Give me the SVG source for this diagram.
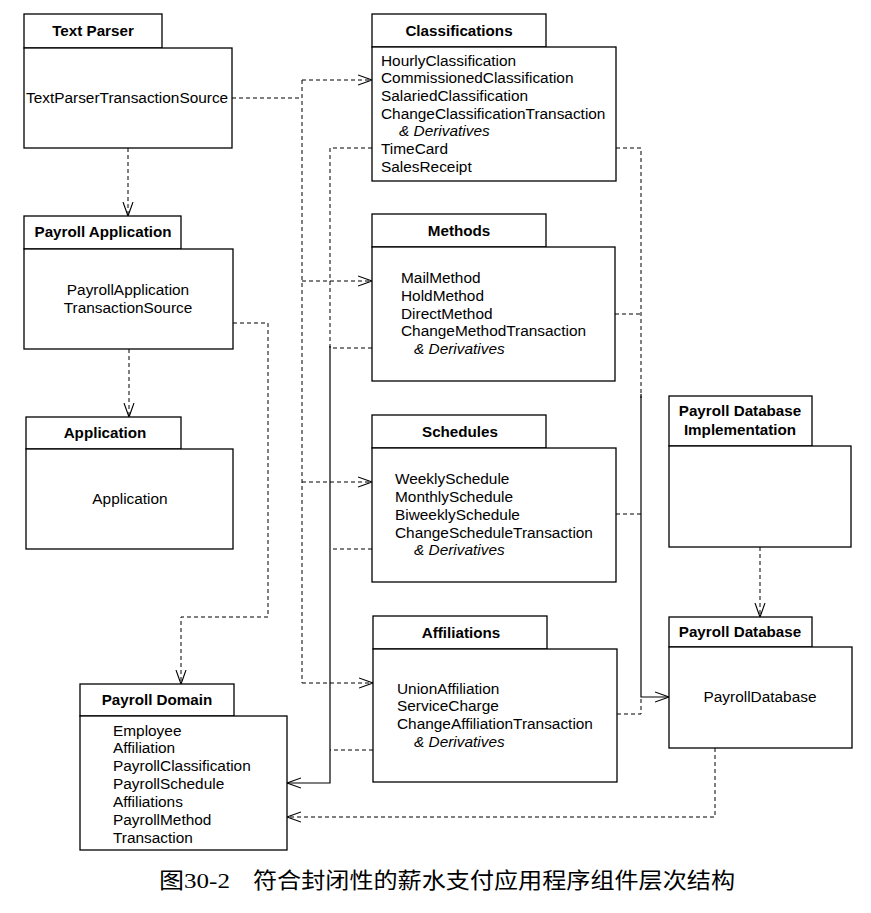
<svg xmlns="http://www.w3.org/2000/svg" width="871" height="913" viewBox="0 0 871 913">
<style>
.box{fill:#fff;stroke:#000;stroke-width:1.3}
.t{font-family:"Liberation Sans",Arial,sans-serif;font-size:15.2px;font-weight:bold;text-anchor:middle;fill:#000}
.b{font-family:"Liberation Sans",Arial,sans-serif;font-size:15.4px;fill:#000}
.c{text-anchor:middle}
.i{font-style:italic}
.d{fill:none;stroke:#000;stroke-width:1;stroke-dasharray:4 3}
.s{fill:none;stroke:#000;stroke-width:1.2}
.cap{font-family:"Liberation Serif","Noto Sans CJK SC",serif;font-size:22px;fill:#000}
</style>
<defs>
<marker id="ah" markerUnits="userSpaceOnUse" markerWidth="16" markerHeight="12" refX="14" refY="6" orient="auto">
<path d="M0,1 L14,6 L0,11" fill="none" stroke="#000" stroke-width="1.1"/>
</marker>
</defs>
<g id="connectors">
<path class="d" d="M128,148 V216" marker-end="url(#ah)"/>
<path class="d" d="M129,349 V417" marker-end="url(#ah)"/>
<path class="d" d="M232,98 H302"/>
<path class="d" d="M302,80 V683"/>
<path class="d" d="M302,80 H372" marker-end="url(#ah)"/>
<path class="d" d="M302,281 H372" marker-end="url(#ah)"/>
<path class="d" d="M302,482 H372" marker-end="url(#ah)"/>
<path class="d" d="M302,683 H373" marker-end="url(#ah)"/>
<path class="d" d="M372,148 H330 V348"/>
<path class="d" d="M372,348 H330"/>
<path class="d" d="M372,549 H330"/>
<path class="d" d="M373,750 H330"/>
<path class="s" d="M330,346 V783 H287" marker-end="url(#ah)"/>
<path class="d" d="M616,148 H641 V398"/>
<path class="d" d="M615,314 H641"/>
<path class="d" d="M616,514 H641"/>
<path class="d" d="M617,714 H641 V697"/>
<path class="s" d="M641,394 V697 H669" marker-end="url(#ah)"/>
<path class="d" d="M233,323 H268 V617 H181 V684" marker-end="url(#ah)"/>
<path class="d" d="M760,547 V617" marker-end="url(#ah)"/>
<path class="d" d="M715,748 V817 H287" marker-end="url(#ah)"/>
</g>
<g id="text-parser">
<rect class="box" x="24" y="14" width="138" height="34"/>
<rect class="box" x="24" y="48" width="208" height="100"/>
<text class="t" x="93" y="36">Text Parser</text>
<text class="b" x="26" y="103">TextParserTransactionSource</text>
</g>
<g id="payroll-application">
<rect class="box" x="24" y="216" width="157" height="33"/>
<rect class="box" x="24" y="249" width="209" height="100"/>
<text class="t" x="103" y="237">Payroll Application</text>
<text class="b c" x="128" y="295">PayrollApplication</text>
<text class="b c" x="128" y="313">TransactionSource</text>
</g>
<g id="application">
<rect class="box" x="26" y="417" width="155" height="32"/>
<rect class="box" x="26" y="449" width="207" height="100"/>
<text class="t" x="105" y="438">Application</text>
<text class="b c" x="130" y="504">Application</text>
</g>
<g id="classifications">
<rect class="box" x="372" y="14" width="174" height="33"/>
<rect class="box" x="372" y="47" width="244" height="134"/>
<text class="t" x="459" y="36">Classifications</text>
<text class="b" x="381" y="66">HourlyClassification</text>
<text class="b" x="381" y="83">CommissionedClassification</text>
<text class="b" x="381" y="101">SalariedClassification</text>
<text class="b" x="381" y="119">ChangeClassificationTransaction</text>
<text class="b i" x="399" y="136">&amp; Derivatives</text>
<text class="b" x="381" y="154">TimeCard</text>
<text class="b" x="381" y="172">SalesReceipt</text>
</g>
<g id="methods">
<rect class="box" x="372" y="214" width="174" height="33"/>
<rect class="box" x="372" y="247" width="243" height="134"/>
<text class="t" x="459" y="236">Methods</text>
<text class="b" x="401" y="283">MailMethod</text>
<text class="b" x="401" y="301">HoldMethod</text>
<text class="b" x="401" y="319">DirectMethod</text>
<text class="b" x="401" y="336">ChangeMethodTransaction</text>
<text class="b i" x="414" y="354">&amp; Derivatives</text>
</g>
<g id="schedules">
<rect class="box" x="372" y="415" width="174" height="33"/>
<rect class="box" x="372" y="448" width="244" height="134"/>
<text class="t" x="460" y="437">Schedules</text>
<text class="b" x="395" y="484">WeeklySchedule</text>
<text class="b" x="395" y="502">MonthlySchedule</text>
<text class="b" x="395" y="520">BiweeklySchedule</text>
<text class="b" x="395" y="538">ChangeScheduleTransaction</text>
<text class="b i" x="414" y="555">&amp; Derivatives</text>
</g>
<g id="affiliations">
<rect class="box" x="373" y="616" width="174" height="33"/>
<rect class="box" x="373" y="649" width="244" height="133"/>
<text class="t" x="461" y="638">Affiliations</text>
<text class="b" x="397" y="694">UnionAffiliation</text>
<text class="b" x="397" y="711">ServiceCharge</text>
<text class="b" x="397" y="729">ChangeAffiliationTransaction</text>
<text class="b i" x="414" y="747">&amp; Derivatives</text>
</g>
<g id="payroll-database-implementation">
<rect class="box" x="669" y="396" width="143" height="50"/>
<rect class="box" x="669" y="446" width="182" height="101"/>
<text class="t" x="740" y="416">Payroll Database</text>
<text class="t" x="740" y="435">Implementation</text>
</g>
<g id="payroll-database">
<rect class="box" x="669" y="617" width="143" height="30"/>
<rect class="box" x="669" y="647" width="183" height="101"/>
<text class="t" x="740" y="637">Payroll Database</text>
<text class="b c" x="760" y="702">PayrollDatabase</text>
</g>
<g id="payroll-domain">
<rect class="box" x="80" y="684" width="154" height="32"/>
<rect class="box" x="80" y="716" width="207" height="134"/>
<text class="t" x="157" y="705">Payroll Domain</text>
<text class="b" x="113" y="736">Employee</text>
<text class="b" x="113" y="753">Affiliation</text>
<text class="b" x="113" y="771">PayrollClassification</text>
<text class="b" x="113" y="789">PayrollSchedule</text>
<text class="b" x="113" y="807">Affiliations</text>
<text class="b" x="113" y="825">PayrollMethod</text>
<text class="b" x="113" y="843">Transaction</text>
</g>
<g id="caption">
<text class="cap" x="159" y="888" textLength="71" lengthAdjust="spacingAndGlyphs">图30-2</text>
<text class="cap" x="253" y="888" textLength="482" lengthAdjust="spacingAndGlyphs">符合封闭性的薪水支付应用程序组件层次结构</text>
</g>
</svg>
